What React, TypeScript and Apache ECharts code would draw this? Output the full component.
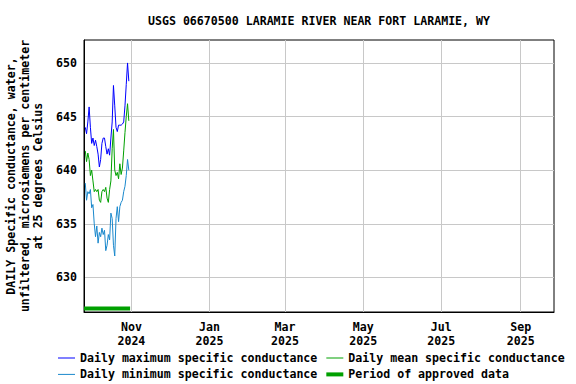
import React, { useEffect, useRef } from 'react';
import * as echarts from 'echarts';

const TITLE = 'USGS 06670500 LARAMIE RIVER NEAR FORT LARAMIE, WY';
const Y_TITLE =
  'DAILY Specific conductance, water,\nunfiltered, microsiemens per centimeter\nat 25 degrees Celsius';
const MONTHS = ['Jan', 'Feb', 'Mar', 'Apr', 'May', 'Jun', 'Jul', 'Aug', 'Sep', 'Oct', 'Nov', 'Dec'];

const MAX_NAME = 'Daily maximum specific conductance';
const MEAN_NAME = 'Daily mean specific conductance';
const MIN_NAME = 'Daily minimum specific conductance';
const APPROVED_NAME = 'Period of approved data';

const X_MIN = '2024-09-25';
const X_MAX = '2025-09-27';
const Y_MIN = 626.78;
const Y_MAX = 652.14;

const dates = [
  '2024-09-26', '2024-09-27', '2024-09-28', '2024-09-29', '2024-09-30',
  '2024-10-01', '2024-10-02', '2024-10-03', '2024-10-04', '2024-10-05',
  '2024-10-06', '2024-10-07', '2024-10-08', '2024-10-09', '2024-10-10',
  '2024-10-11', '2024-10-12', '2024-10-13', '2024-10-14', '2024-10-15',
  '2024-10-16', '2024-10-17', '2024-10-18', '2024-10-19', '2024-10-20',
  '2024-10-21', '2024-10-22', '2024-10-23', '2024-10-24', '2024-10-25',
  '2024-10-26', '2024-10-27', '2024-10-28', '2024-10-29', '2024-10-30',
];

const maxValues = [
  644.0, 643.4, 644.5, 645.9, 644.0, 642.5, 643.0, 642.3, 642.8, 642.2,
  641.5, 640.3, 641.0, 642.5, 643.0, 643.0, 642.2, 641.5, 642.0, 641.4,
  643.0, 644.5, 647.9, 646.0, 644.0, 643.6, 644.2, 644.2, 644.2, 644.3,
  644.5, 646.0, 648.0, 650.0, 648.3,
];

const meanValues = [
  641.8, 640.8, 641.6, 641.0, 639.5, 640.0, 639.0, 638.0, 638.2, 638.0,
  638.2, 637.2, 637.0, 638.0, 638.2, 638.0, 638.4, 637.4, 637.0, 638.2,
  639.0, 642.0, 643.8, 640.0, 639.5, 639.8, 639.2, 640.6, 639.6, 640.2,
  641.8, 643.5, 645.0, 646.2, 644.6,
];

const minValues = [
  638.8, 637.2, 638.0, 637.8, 638.2, 636.5, 636.8, 635.0, 633.8, 634.8,
  633.2, 634.2, 633.8, 634.6, 634.0, 634.4, 632.5, 633.0, 634.0, 633.5,
  636.0, 635.5, 633.0, 632.0, 635.5, 636.6, 635.2, 636.6, 637.0, 637.2,
  638.0, 638.5, 639.5, 641.0, 640.0,
];

const approvedPeriod = ['2024-09-25', '2024-10-31'];
const APPROVED_LEVEL = 627.1;

const FONT = '"DejaVu Sans Mono", monospace';
const FONT_SIZE = 11.6;
const THIN_ICON = 'path://M0,0 L17,0 L17,1 L0,1 Z';
const THICK_ICON = 'path://M0,0 L17,0 L17,4 L0,4 Z';

const toUTC = (s: string) => {
  const [y, m, d] = s.split('-').map(Number);
  return Date.UTC(y, m - 1, d);
};

const pair = (vals: number[]) => dates.map((d, i) => [toUTC(d), vals[i]]);

export default function App() {
  const ref = useRef<HTMLDivElement>(null);

  useEffect(() => {
    if (!ref.current) return;
    const chart = echarts.init(ref.current, undefined, { renderer: 'svg' });
    const textStyle = { fontFamily: FONT, fontWeight: 'bold' as const, fontSize: FONT_SIZE, color: '#000' };
    const legendBase = {
      left: 58,
      orient: 'horizontal' as const,
      itemGap: 9,
      itemWidth: 17,
      itemHeight: 12,
      padding: 0,
      selectedMode: false,
      itemStyle: { borderWidth: 0 },
      textStyle,
    };
    chart.setOption({
      animation: false,
      useUTC: true,
      backgroundColor: '#fff',
      title: {
        text: TITLE,
        left: 319,
        textAlign: 'center',
        top: 13.3,
        padding: 0,
        textStyle: { ...textStyle, lineHeight: 16 },
      },
      grid: {
        left: 84,
        right: 22,
        top: 40,
        bottom: 72,
        show: true,
        containLabel: false,
        outerBoundsMode: 'none',
        borderColor: '#000',
        borderWidth: 1,
        backgroundColor: 'transparent',
      },
      legend: [
        { ...legendBase, top: 352, data: [{ name: MAX_NAME, icon: THIN_ICON }, { name: MEAN_NAME, icon: THIN_ICON }] },
        { ...legendBase, top: 368.4, data: [{ name: MIN_NAME, icon: THIN_ICON }, { name: APPROVED_NAME, icon: THICK_ICON }] },
      ],
      xAxis: {
        type: 'time',
        min: toUTC(X_MIN),
        max: toUTC(X_MAX),
        splitNumber: 5,
        axisLine: { show: true, lineStyle: { color: '#000', width: 1 } },
        axisTick: { show: false },
        splitLine: { show: true, showMinLine: false, showMaxLine: false, lineStyle: { color: '#c8c8c8', width: 1 } },
        axisLabel: {
          ...textStyle,
          margin: 8,
          lineHeight: 14,
          showMinLabel: false,
          showMaxLabel: false,
          formatter: (value: number) => {
            const d = new Date(value);
            if (d.getUTCDate() !== 1) return '';
            return MONTHS[d.getUTCMonth()] + '\n' + d.getUTCFullYear();
          },
        },
      },
      yAxis: {
        type: 'value',
        min: Y_MIN,
        max: Y_MAX,
        splitNumber: 5,
        name: Y_TITLE,
        nameLocation: 'middle',
        nameGap: 37,
        nameRotate: 90,
        nameTextStyle: { ...textStyle, lineHeight: 13.5, align: 'center' },
        axisLine: { show: true, lineStyle: { color: '#000', width: 1 } },
        axisTick: { show: false },
        splitLine: { show: true, showMinLine: false, showMaxLine: false, lineStyle: { color: '#c8c8c8', width: 1 } },
        axisLabel: {
          ...textStyle,
          margin: 7,
          showMinLabel: false,
          showMaxLabel: false,
          formatter: (v: number) => (Math.abs(v % 5) < 1e-6 ? String(Math.round(v)) : ''),
        },
      },
      series: [
        {
          name: MAX_NAME,
          type: 'line',
          data: pair(maxValues),
          symbol: 'none',
          color: '#0000ff',
          lineStyle: { color: '#0000ff', width: 1 },
        },
        {
          name: MIN_NAME,
          type: 'line',
          data: pair(minValues),
          symbol: 'none',
          color: '#1a88cc',
          lineStyle: { color: '#1a88cc', width: 1 },
        },
        {
          name: MEAN_NAME,
          type: 'line',
          data: pair(meanValues),
          symbol: 'none',
          color: '#00a000',
          lineStyle: { color: '#00a000', width: 1 },
        },
        {
          name: APPROVED_NAME,
          type: 'line',
          data: approvedPeriod.map((d) => [toUTC(d), APPROVED_LEVEL]),
          symbol: 'none',
          color: '#00a000',
          lineStyle: { color: '#00a000', width: 4 },
        },
      ],
    });
    return () => chart.dispose();
  }, []);

  return <div ref={ref} style={{ position: 'absolute', left: 0, top: 0, width: 576, height: 384 }} />;
}
